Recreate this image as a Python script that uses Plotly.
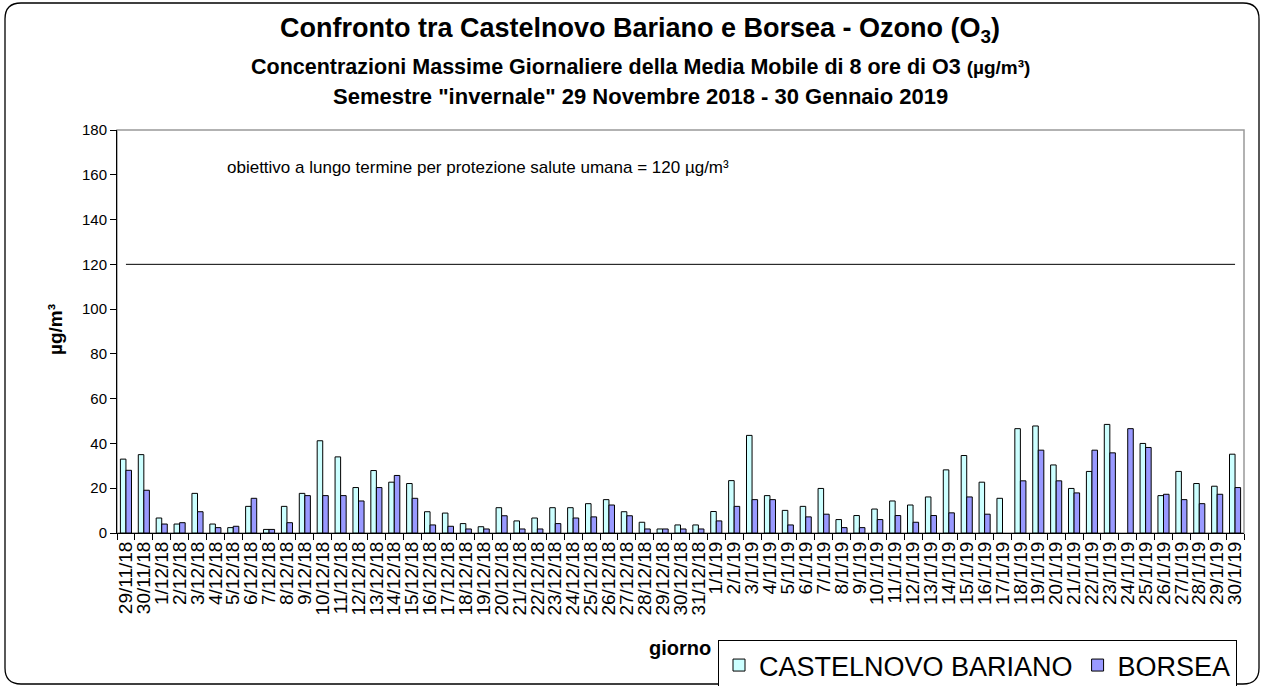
import plotly.graph_objects as go

days = ["29/11/18", "30/11/18",
        "1/12/18", "2/12/18", "3/12/18", "4/12/18", "5/12/18", "6/12/18", "7/12/18", "8/12/18",
        "9/12/18", "10/12/18", "11/12/18", "12/12/18", "13/12/18", "14/12/18", "15/12/18",
        "16/12/18", "17/12/18", "18/12/18", "19/12/18", "20/12/18", "21/12/18", "22/12/18",
        "23/12/18", "24/12/18", "25/12/18", "26/12/18", "27/12/18", "28/12/18", "29/12/18",
        "30/12/18", "31/12/18",
        "1/1/19", "2/1/19", "3/1/19", "4/1/19", "5/1/19", "6/1/19", "7/1/19", "8/1/19",
        "9/1/19", "10/1/19", "11/1/19", "12/1/19", "13/1/19", "14/1/19", "15/1/19",
        "16/1/19", "17/1/19", "18/1/19", "19/1/19", "20/1/19", "21/1/19", "22/1/19",
        "23/1/19", "24/1/19", "25/1/19", "26/1/19", "27/1/19", "28/1/19", "29/1/19", "30/1/19"]

castelnovo = [33, 35,
              6.7, 4.0, 17.7, 4.0, 2.4, 11.9, 1.6, 11.9,
              17.7, 41.2, 34.0, 20.3, 27.9, 22.7, 22.1,
              9.5, 8.9, 4.2, 2.8, 11.3, 5.4, 6.7,
              11.3, 11.3, 13.1, 14.9, 9.5, 4.8, 1.8,
              3.6, 3.6,
              9.6, 23.4, 43.6, 16.7, 10.1, 11.9, 19.9, 6.0,
              7.8, 10.7, 14.3, 12.5, 16.1, 28.2, 34.6,
              22.7, 15.5, 46.6, 47.8, 30.4, 19.9, 27.5,
              48.5, None, 40.0, 16.7, 27.5, 22.1, 20.9, 35.2]

borsea = [28.0, 19.1,
          4.0, 4.6, 9.5, 2.4, 3.0, 15.5, 1.6, 4.6,
          16.7, 16.7, 16.7, 14.3, 20.3, 25.7, 15.5,
          3.6, 3.0, 1.8, 1.8, 7.7, 1.8, 1.8,
          4.2, 6.7, 7.2, 12.5, 7.7, 1.8, 1.8,
          1.8, 1.8,
          5.4, 11.9, 14.9, 14.9, 3.6, 7.2, 8.4, 2.4,
          2.4, 6.0, 7.8, 4.8, 7.8, 9.0, 16.1,
          8.4, None, 23.3, 37.0, 23.3, 17.9, 37.0,
          35.8, 46.6, 38.2, 17.3, 14.9, 13.1, 17.3, 20.3]

limit_value = 120
y_ticks = [0, 20, 40, 60, 80, 100, 120, 140, 160, 180]

FONT = "Liberation Sans, Arial, sans-serif"
W, H = 1265, 686
L, R, T, B = 117, 21, 130, 153
PW, PH = W - L - R, H - T - B


def px(x):
    return (x - L) / PW


def py(y):
    return (H - B - y) / PH


fig = go.Figure()
fig.add_trace(go.Bar(name="CASTELNOVO BARIANO", x=days, y=castelnovo,
                     marker=dict(color="#CCFFFF", line=dict(color="#000000", width=1))))
fig.add_trace(go.Bar(name="BORSEA", x=days, y=borsea,
                     marker=dict(color="#9999FF", line=dict(color="#000000", width=1))))
fig.add_trace(go.Scatter(x=days, y=[limit_value] * len(days), mode="lines",
                         line=dict(color="#000000", width=1), showlegend=False,
                         hoverinfo="skip"))

# outer rounded frame
x0, x1, y0, y1, r = 5, 1259, 3, 684, 16
path = (f"M {px(x0 + r)},{py(y0)} L {px(x1 - r)},{py(y0)} "
        f"Q {px(x1)},{py(y0)} {px(x1)},{py(y0 + r)} L {px(x1)},{py(y1 - r)} "
        f"Q {px(x1)},{py(y1)} {px(x1 - r)},{py(y1)} L {px(x0 + r)},{py(y1)} "
        f"Q {px(x0)},{py(y1)} {px(x0)},{py(y1 - r)} L {px(x0)},{py(y0 + r)} "
        f"Q {px(x0)},{py(y0)} {px(x0 + r)},{py(y0)} Z")

shapes = [
    dict(type="path", path=path, xref="paper", yref="paper",
         line=dict(color="#000000", width=1.3), layer="below"),
    dict(type="rect", x0=0, x1=1, y0=0, y1=1, xref="paper", yref="paper",
         line=dict(color="#999999", width=1.5), layer="below"),
]

cx = px(640)
annotations = [
    dict(text="<b>Confronto tra Castelnovo Bariano e Borsea - Ozono (O<sub>3</sub>)</b>",
         x=cx, y=py(30), xref="paper", yref="paper", showarrow=False,
         xanchor="center", yanchor="middle", font=dict(size=27, color="#000000", family=FONT)),
    dict(text="<b>Concentrazioni Massime Giornaliere della Media Mobile di 8 ore di O3 "
              "<span style='font-size:19px'>(µg/m³)</span></b>",
         x=cx, y=py(67), xref="paper", yref="paper", showarrow=False,
         xanchor="center", yanchor="middle", font=dict(size=21.5, color="#000000", family=FONT)),
    dict(text="<b>Semestre \"invernale\" 29 Novembre 2018 - 30 Gennaio 2019</b>",
         x=cx, y=py(96), xref="paper", yref="paper", showarrow=False,
         xanchor="center", yanchor="middle", font=dict(size=22, color="#000000", family=FONT)),
    dict(text="obiettivo a lungo termine per protezione salute umana = 120 µg/m³",
         x=px(225), y=py(167), xref="paper", yref="paper", showarrow=False,
         xanchor="left", yanchor="middle", font=dict(size=17, color="#000000", family=FONT)),
    dict(text="<b>µg/m³</b>", textangle=-90,
         x=px(55), y=py(330), xref="paper", yref="paper", showarrow=False,
         xanchor="center", yanchor="middle", font=dict(size=19, color="#000000", family=FONT)),
    dict(text="<b>giorno</b>",
         x=px(680), y=py(648), xref="paper", yref="paper", showarrow=False,
         xanchor="center", yanchor="middle", font=dict(size=20, color="#000000", family=FONT)),
]

fig.update_layout(
    width=W, height=H,
    margin=dict(l=L, r=R, t=T, b=B, autoexpand=False),
    paper_bgcolor="#FFFFFF", plot_bgcolor="#FFFFFF",
    barmode="group", bargap=0.38, bargroupgap=0,
    font=dict(family=FONT, color="#000000"),
    shapes=shapes, annotations=annotations,
    showlegend=True,
    legend=dict(orientation="h", x=px(718), y=py(640), xanchor="left", yanchor="top",
                bordercolor="#000000", borderwidth=1, bgcolor="#FFFFFF",
                font=dict(size=27, family=FONT, color="#000000"),
                itemwidth=30, traceorder="normal"),
    xaxis=dict(type="category", tickmode="array", tickvals=days, ticktext=days,
               tickangle=-90, tickson="boundaries", ticks="outside", ticklen=6,
               tickcolor="#000000", showline=True, linecolor="#000000", linewidth=1,
               showgrid=False, tickfont=dict(size=19, family=FONT, color="#000000"),
               fixedrange=True),
    yaxis=dict(range=[0, 180], tickmode="array", tickvals=y_ticks, ticks="outside",
               ticklen=6, tickcolor="#000000", showline=True, linecolor="#000000",
               linewidth=1, showgrid=False, zeroline=False,
               tickfont=dict(size=15, family=FONT, color="#000000"), fixedrange=True),
)

fig.write_html("out.html",
               config={"displayModeBar": False},
               post_script="document.body.style.margin='0';"
                           "document.body.style.overflow='hidden';")
